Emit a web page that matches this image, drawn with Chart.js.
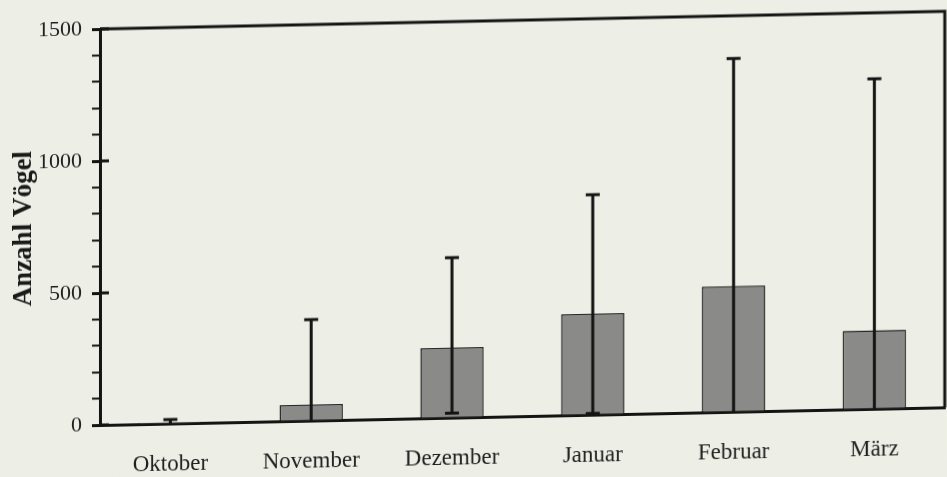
<!DOCTYPE html>
<html>
<head>
<meta charset="utf-8">
<script src="https://cdn.jsdelivr.net/npm/chart.js@4.4.1/dist/chart.umd.min.js"></script>
<style>
  html, body { margin: 0; padding: 0; background: #edeee5; overflow: hidden; }
  #birdChart {
    display: block;
    background: #edeee5;
    /* the scanned page is slightly skewed */
    transform: skewY(-1.2deg);
    transform-origin: 101px 0;
  }
</style>
</head>
<body>
<canvas id="birdChart" width="947" height="477"></canvas>
<script>
// months and mean bird counts with the range of the error bars
const months = ['Oktober', 'November', 'Dezember', 'Januar', 'Februar', 'März'];
const meanBirds = [5, 61, 265, 383, 476, 297];
const errUpper = [15, 383, 606, 833, 1338, 1250];
const errLower = [0, 0, 17, 5, 0, 0];
const yTicks = [0, 500, 1000, 1500];

const INK = '#141414';
const SERIF = '"Liberation Serif", "DejaVu Serif", serif';

// error bars, frame and the inner part of the major y ticks
const errorBars = {
  id: 'errorBars',
  afterDatasetsDraw(chart) {
    const { ctx, chartArea, scales: { x, y } } = chart;
    ctx.save();
    ctx.strokeStyle = INK;
    ctx.lineWidth = 3;
    ctx.lineCap = 'butt';

    months.forEach((m, i) => {
      const px = x.getPixelForValue(i);
      const top = y.getPixelForValue(errUpper[i]);
      const bot = y.getPixelForValue(errLower[i]);
      ctx.beginPath();
      ctx.moveTo(px, bot);
      ctx.lineTo(px, top);
      ctx.moveTo(px - 7, top);
      ctx.lineTo(px + 7, top);
      if (errLower[i] > 0) {
        ctx.moveTo(px - 7, bot);
        ctx.lineTo(px + 7, bot);
      }
      ctx.stroke();
    });

    // top and right border of the frame
    ctx.beginPath();
    ctx.moveTo(chartArea.left, chartArea.top);
    ctx.lineTo(chartArea.right, chartArea.top);
    ctx.lineTo(chartArea.right, chartArea.bottom);
    ctx.stroke();

    // major ticks reach a bit into the plot
    yTicks.forEach(v => {
      const py = y.getPixelForValue(v);
      ctx.beginPath();
      ctx.moveTo(chartArea.left, py);
      ctx.lineTo(chartArea.left + 9, py);
      ctx.stroke();
    });
    ctx.restore();
  }
};

const ctx = document.getElementById('birdChart').getContext('2d');

new Chart(ctx, {
  type: 'bar',
  data: {
    labels: months,
    datasets: [{
      label: 'Anzahl Vögel',
      data: meanBirds,
      backgroundColor: '#8a8a88',
      borderColor: '#262626',
      borderWidth: 1.5,
      barPercentage: 0.9,
      categoryPercentage: 0.5
    }]
  },
  options: {
    responsive: false,
    devicePixelRatio: 1,
    animation: false,
    layout: { padding: { top: 29, right: 2, left: 0, bottom: 0 } },
    plugins: {
      legend: { display: false },
      tooltip: { enabled: false }
    },
    scales: {
      x: {
        grid: { display: false, drawTicks: false },
        border: { display: true, color: INK, width: 3 },
        ticks: {
          color: '#1e1e1e',
          padding: 27,
          font: { family: SERIF, size: 23 }
        },
        afterFit(scale) { scale.height = 52; }
      },
      y: {
        min: 0,
        max: 1500,
        grid: {
          drawOnChartArea: false,
          drawTicks: true,
          tickLength: 8,
          color: INK,
          tickWidth: c => (yTicks.includes(c.tick && c.tick.value) ? 3 : 2)
        },
        border: { display: true, color: INK, width: 3 },
        ticks: {
          stepSize: 100,
          autoSkip: false,
          padding: 10,
          color: '#1e1e1e',
          font: { family: SERIF, size: 22 },
          callback: v => (yTicks.includes(v) ? String(v) : '')
        },
        title: {
          display: true,
          text: 'Anzahl Vögel',
          color: '#1a1a1a',
          font: { family: SERIF, size: 27, weight: 'bold' },
          padding: { top: 8, bottom: 0 }
        },
        afterFit(scale) { scale.width = 100; }
      }
    }
  },
  plugins: [errorBars]
});
</script>
</body>
</html>
